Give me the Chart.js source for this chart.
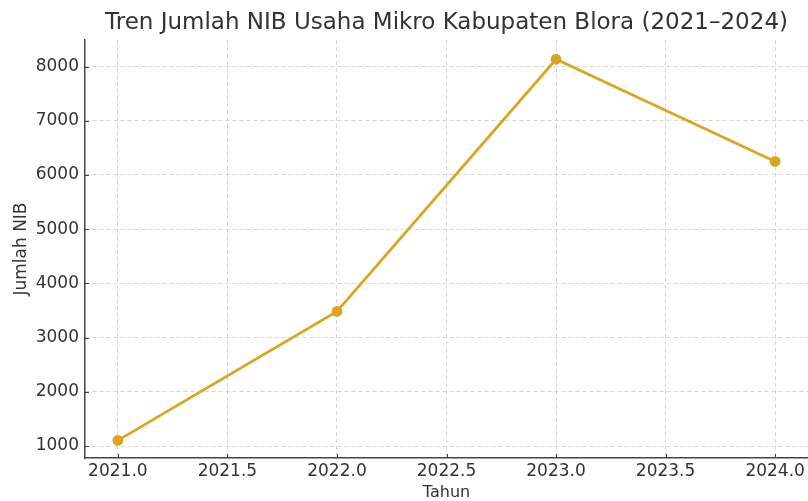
<!DOCTYPE html>
<html>
<head>
<meta charset="utf-8">
<script src="https://cdn.jsdelivr.net/npm/chart.js@4.4.1/dist/chart.umd.min.js"></script>
<style>
  html, body { margin: 0; padding: 0; background: #fff; }
  #wrap { width: 808px; height: 501px; }
</style>
</head>
<body>
<div id="wrap"><canvas id="nib-chart" width="808" height="501"></canvas></div>
<script>
const years = [2021, 2022, 2023, 2024];
const nibCounts = [1105, 3483, 8135, 6250];
const xTicks = [2021.0, 2021.5, 2022.0, 2022.5, 2023.0, 2023.5, 2024.0];
const yTicks = [1000, 2000, 3000, 4000, 5000, 6000, 7000, 8000];

const lineGold = '#DAA520';
const textDark = '#333333';
const spineGrey = '#444444';
const gridGrey = '#d6d6d6';

Chart.defaults.font.family = "'DejaVu Sans', sans-serif";
Chart.defaults.color = textDark;

// small inward tick marks, like the matplotlib original
const innerTicks = {
    id: 'innerTicks',
    afterDraw(chart) {
        const c = chart.ctx;
        const area = chart.chartArea;
        const xs = chart.scales.x;
        const ys = chart.scales.y;
        c.save();
        c.strokeStyle = spineGrey;
        c.lineWidth = 1;
        xTicks.forEach(v => {
            const px = Math.round(xs.getPixelForValue(v)) + 0.5;
            c.beginPath();
            c.moveTo(px, area.bottom);
            c.lineTo(px, area.bottom - 4);
            c.stroke();
        });
        yTicks.forEach(v => {
            const py = Math.round(ys.getPixelForValue(v)) + 0.5;
            c.beginPath();
            c.moveTo(area.left, py);
            c.lineTo(area.left + 4, py);
            c.stroke();
        });
        c.restore();
    },
};

const ctx = document.getElementById("nib-chart").getContext("2d");

new Chart(ctx, {
    type: "line",
    data: {
        datasets: [
            {
                label: "Jumlah NIB",
                data: years.map((y, i) => ({ x: y, y: nibCounts[i] })),
                borderColor: lineGold,
                backgroundColor: lineGold,
                borderWidth: 2.8,
                pointRadius: 4,
                pointBackgroundColor: lineGold,
                pointBorderColor: lineGold,
                tension: 0,
                clip: false,
            },
        ],
    },
    options: {
        responsive: false,
        animation: false,
        maintainAspectRatio: false,
        layout: { padding: 0, autoPadding: false },
        plugins: {
            legend: { display: false },
            tooltip: { enabled: false },
            title: {
                display: true,
                fullSize: false,
                text: "Tren Jumlah NIB Usaha Mikro Kabupaten Blora (2021–2024)",
                color: textDark,
                font: { size: 23, weight: 'normal', lineHeight: 1.2 },
                padding: { top: 9, bottom: 3.4 },
            },
        },
        scales: {
            x: {
                type: 'linear',
                min: 2020.85,
                max: 2024.15,
                afterBuildTicks: function (scale) {
                    scale.ticks = xTicks.map(v => ({ value: v }));
                },
                afterFit: function (scale) {
                    scale.height = 43;
                },
                ticks: {
                    font: { size: 17 },
                    color: textDark,
                    padding: 3,
                    maxRotation: 0,
                    autoSkip: false,
                    callback: function (value) {
                        return Number(value).toFixed(1);
                    },
                },
                grid: {
                    color: gridGrey,
                    lineWidth: 1,
                    drawTicks: false,
                },
                border: {
                    display: true,
                    color: spineGrey,
                    width: 1.5,
                    dash: [4, 3],
                },
                title: {
                    display: true,
                    text: "Tahun",
                    color: textDark,
                    font: { size: 16, lineHeight: 1 },
                    padding: { top: 0, bottom: 0 },
                },
            },
            y: {
                type: 'linear',
                min: 780,
                max: 8490,
                afterBuildTicks: function (scale) {
                    scale.ticks = yTicks.map(v => ({ value: v }));
                },
                afterFit: function (scale) {
                    scale.width = 85;
                },
                ticks: {
                    font: { size: 17 },
                    color: textDark,
                    padding: 6,
                    autoSkip: false,
                    callback: function (value) {
                        return String(value);
                    },
                },
                grid: {
                    color: gridGrey,
                    lineWidth: 1,
                    drawTicks: false,
                },
                border: {
                    display: true,
                    color: spineGrey,
                    width: 1.5,
                    dash: [4, 3],
                },
                title: {
                    display: true,
                    text: "Jumlah NIB",
                    color: textDark,
                    font: { size: 17, lineHeight: 1.2 },
                    padding: { top: 11, bottom: 0 },
                },
            },
        },
    },
    plugins: [innerTicks],
});
</script>
</body>
</html>
